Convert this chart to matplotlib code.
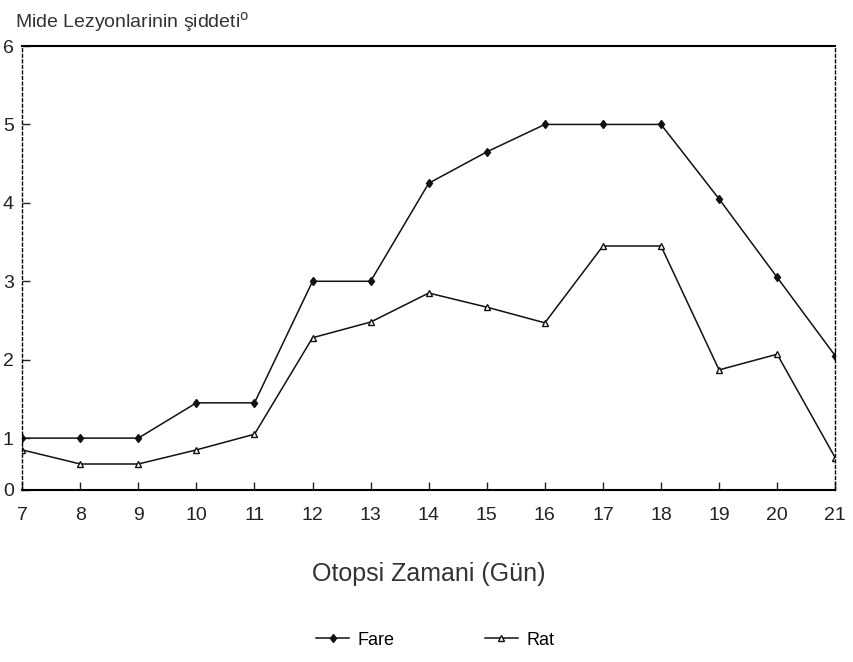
import matplotlib
matplotlib.use('Agg')
import matplotlib.pyplot as plt

plt.rcParams['font.family'] = ['Liberation Sans', 'DejaVu Sans']

days = [7, 8, 9, 10, 11, 12, 13, 14, 15, 16, 17, 18, 19, 20, 21]
fare = [1.0, 1.0, 1.0, 1.45, 1.45, 3.0, 3.0, 4.25, 4.65, 5.0, 5.0, 5.0, 4.05, 3.05, 2.05]
rat = [0.85, 0.67, 0.67, 0.85, 1.05, 2.28, 2.48, 2.85, 2.67, 2.47, 3.45, 3.45, 1.87, 2.07, 0.75]
y_ticks = [0.34, 1, 2, 3, 4, 5, 6]
y_labels = ['0', '1', '2', '3', '4', '5', '6']

fig = plt.figure(figsize=(8.54, 6.62), dpi=100)
ax = fig.add_axes([0.026, 0.26, 0.952, 0.6705])

ax.plot(days, fare, color='#111111', lw=1.1, marker='d', ms=4.5,
        mfc='#111111', label='Fare')
ax.plot(days, rat, color='#111111', lw=1.1, marker='^', ms=5,
        mfc='white', mec='#111111', label='Rat')

ax.set_xlim(7, 21)
ax.set_ylim(0.34, 6)
ax.set_xticks(days)
ax.set_yticks(y_ticks)
ax.set_yticklabels(y_labels)
ax.tick_params(direction='in', length=6, width=1, labelsize=14, colors='#222222')
ax.tick_params(axis='x', pad=12)
ax.tick_params(axis='y', pad=6)

for side in ['left', 'right']:
    ax.spines[side].set_linestyle((0, (2, 2)))
    ax.spines[side].set_linewidth(1)
for side in ['top', 'bottom']:
    ax.spines[side].set_linewidth(1.5)

ax.set_xlabel('Otopsi Zamani (Gün)', fontsize=18, color='#333333', labelpad=28)

fig.text(0.018, 0.985, r'Mide Lezyonlarinin şiddeti$^{\mathrm{o}}$', fontsize=14,
         color='#333333', va='top', ha='left')

fig.legend(loc='center', bbox_to_anchor=(0.51, 0.033), ncol=2, frameon=False,
           fontsize=13, handlelength=1.8, columnspacing=5, handletextpad=0.5)

fig.savefig('out.png', dpi=100)
